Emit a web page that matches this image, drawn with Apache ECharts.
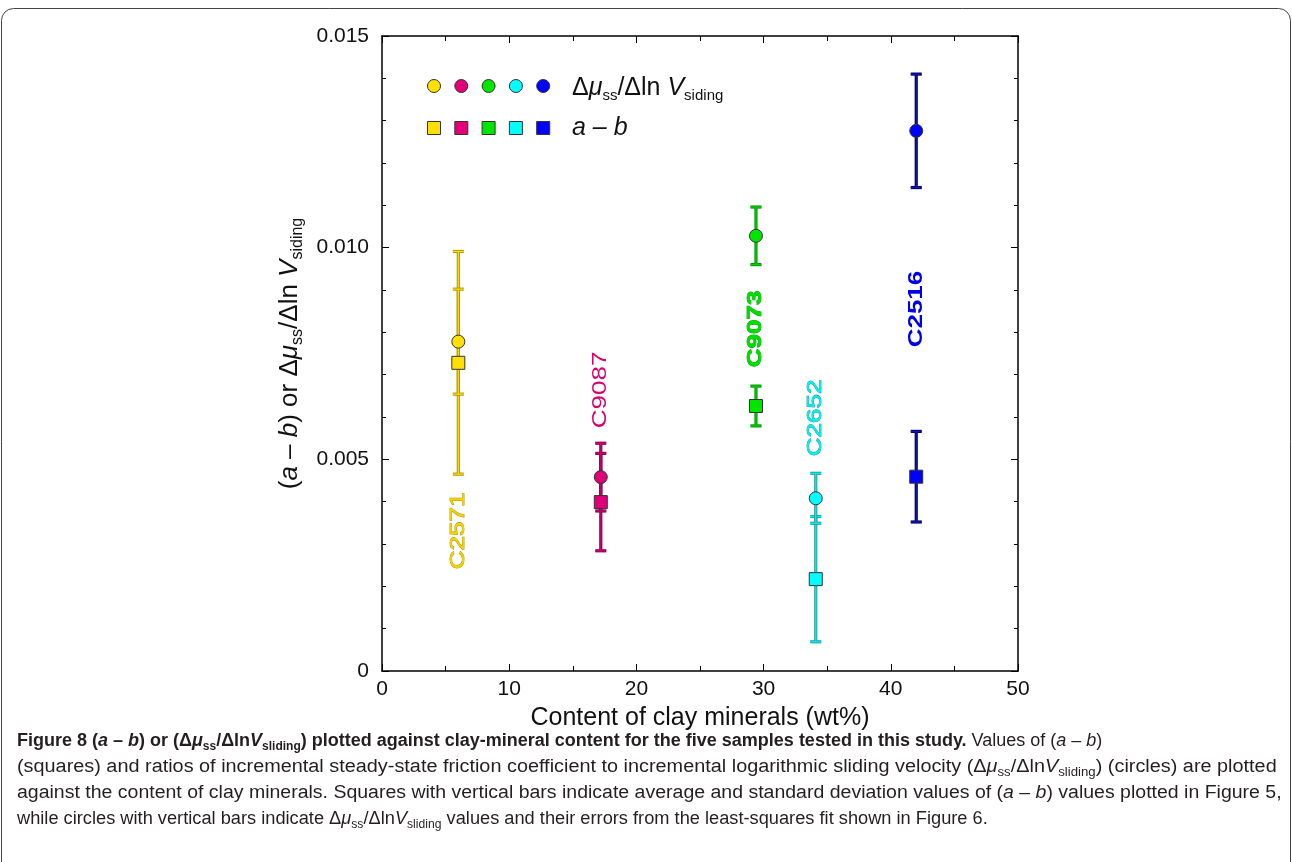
<!DOCTYPE html>
<html>
<head>
<meta charset="utf-8">
<script src="https://cdn.jsdelivr.net/npm/echarts@6/dist/echarts.min.js"></script>
<style>html,body{margin:0;padding:0;background:#fff;}#c{width:1292px;height:862px;}</style>
</head>
<body>
<div id="c"></div>
<script>
// ---- data ----
const samples = ['C2571', 'C9087', 'C9073', 'C2652', 'C2516'];
const clayContent = [6.0, 17.2, 29.4, 34.1, 42.0];
const muRatio = [0.00778, 0.00458, 0.01028, 0.00408, 0.01276];
const muRatioErr = [0.00124, 0.00080, 0.00068, 0.00059, 0.00134];
const aMinusB = [0.00728, 0.00399, 0.00626, 0.00217, 0.00459];
const aMinusBErr = [0.00263, 0.00115, 0.00047, 0.00148, 0.00107];
const labelAt = [0.00331, 0.00664, 0.00808, 0.00598, 0.00855];
const xTicks = [0, 10, 20, 30, 40, 50];
const yTicks = [0, 0.005, 0.010, 0.015];

// ---- styles ----
const fillColors = ['#FFE000', '#E0007A', '#00E600', '#00FFFF', '#0000FF'];
const barOuter = ['#B39600', '#8C004C', '#009A00', '#2A9E9E', '#00007A'];
const barInner = ['#FFE000', '#D0006E', '#00D000', '#00F4F4', '#1414A8'];
const labelFill = ['#F4D400', '#D8006F', '#00DC00', '#00F0F0', '#0000E6'];
const labelStroke = ['#A88C00', null, '#00A800', '#1E9C9C', null];
const labelBold = [false, false, true, false, true];

const chart = echarts.init(document.getElementById('c'));

function errBarItem(valArr, errArr) {
  return clayContent.map((x, i) => [x, valArr[i] - errArr[i], valArr[i] + errArr[i], i]);
}

function renderErr(params, api) {
  const x = api.value(0), lo = api.value(1), hi = api.value(2), i = api.value(3);
  const p1 = api.coord([x, hi]);
  const p2 = api.coord([x, lo]);
  const hw = 5.5;
  const children = [];
  const segs = [
    [p1[0], p1[1], p2[0], p2[1]],
    [p1[0] - hw, p1[1], p1[0] + hw, p1[1]],
    [p2[0] - hw, p2[1], p2[0] + hw, p2[1]]
  ];
  segs.forEach(s => children.push({type: 'line', shape: {x1: s[0], y1: s[1], x2: s[2], y2: s[3]},
    style: {stroke: barOuter[i], lineWidth: 3.2}}));
  segs.forEach(s => children.push({type: 'line', shape: {x1: s[0], y1: s[1], x2: s[2], y2: s[3]},
    style: {stroke: barInner[i], lineWidth: 1.2}}));
  return {type: 'group', children};
}

const axFont = 'Liberation Sans, Arial, sans-serif';
function frameAxis(extra) {
  return Object.assign({
    type: 'value',
    axisLine: {show: true, onZero: false, lineStyle: {color: '#000', width: 1.5}},
    axisTick: {show: true, inside: true, length: 7, lineStyle: {color: '#000', width: 1}},
    splitLine: {show: false}
  }, extra);
}

const option = {
  animation: false,
  backgroundColor: '#fff',
  grid: {left: 382, right: 274, top: 36, bottom: 191},
  xAxis: [frameAxis({
    min: 0, max: 50, interval: 10, position: 'bottom',
    minorTick: {show: true, splitNumber: 2, length: 5, lineStyle: {color: '#000', width: 1}},
    axisLabel: {color: '#111', fontSize: 21, fontFamily: axFont, margin: 8,
      formatter: v => xTicks.includes(v) ? String(v) : ''},
    name: 'Content of clay minerals (wt%)', nameLocation: 'middle', nameGap: 35,
    nameTextStyle: {color: '#111', fontSize: 25, fontFamily: axFont}
  }), frameAxis({
    min: 0, max: 50, interval: 10, position: 'top',
    minorTick: {show: true, splitNumber: 2, length: 5, lineStyle: {color: '#000', width: 1}},
    axisLabel: {show: false}
  })],
  yAxis: [frameAxis({
    min: 0, max: 0.015, interval: 0.005, position: 'left',
    minorTick: {show: true, splitNumber: 5, length: 4, lineStyle: {color: '#000', width: 1}},
    axisLabel: {color: '#111', fontSize: 21, fontFamily: axFont, margin: 13,
      formatter: v => {
        const t = yTicks.find(k => Math.abs(k - v) < 1e-9);
        if (t === undefined) return '';
        return t === 0 ? '0' : t.toFixed(3);
      }},
    name: '({i|a} – {i|b}) or Δ{i|μ}{s|ss}/Δln {i|V}{s|siding}',
    nameLocation: 'middle', nameGap: 76, nameRotate: 90,
    nameTextStyle: {color: '#111', fontSize: 26, fontFamily: axFont, lineHeight: 32,
      rich: {
        i: {fontStyle: 'italic', fontSize: 26, color: '#111', fontFamily: axFont, lineHeight: 32},
        s: {fontSize: 16, color: '#111', fontFamily: axFont, verticalAlign: 'bottom', lineHeight: 15}
      }}
  }), frameAxis({
    min: 0, max: 0.015, interval: 0.005, position: 'right',
    minorTick: {show: true, splitNumber: 5, length: 4, lineStyle: {color: '#000', width: 1}},
    axisLabel: {show: false}
  })],
  series: [
    {type: 'custom', name: 'errA', renderItem: renderErr, data: errBarItem(aMinusB, aMinusBErr), z: 2, clip: false,
      encode: {x: 0, y: [1, 2]}},
    {type: 'custom', name: 'errMu', renderItem: renderErr, data: errBarItem(muRatio, muRatioErr), z: 3, clip: false,
      encode: {x: 0, y: [1, 2]}},
    {type: 'scatter', name: 'a - b', symbol: 'rect', symbolSize: 13, z: 4,
      data: clayContent.map((x, i) => ({value: [x, aMinusB[i]],
        itemStyle: {color: fillColors[i], borderColor: '#333', borderWidth: 1, opacity: 1}}))},
    {type: 'scatter', name: 'mu', symbol: 'circle', symbolSize: 13, z: 5,
      data: clayContent.map((x, i) => ({value: [x, muRatio[i]],
        itemStyle: {color: fillColors[i], borderColor: '#333', borderWidth: 1, opacity: 1}}))},
    {type: 'custom', name: 'labels', z: 6, clip: false,
      data: clayContent.map((x, i) => [x, labelAt[i], i]),
      encode: {x: 0, y: 1},
      renderItem: (params, api) => {
        const i = api.value(2);
        const p = api.coord([api.value(0), api.value(1)]);
        const st = {text: samples[i], fill: labelFill[i], fontSize: 20,
          fontWeight: labelBold[i] ? 'bold' : 'normal',
          fontFamily: axFont, align: 'center', verticalAlign: 'middle'};
        if (labelStroke[i]) { st.stroke = labelStroke[i]; st.lineWidth = 0.8; }
        return {type: 'text', x: p[0], y: p[1], rotation: Math.PI / 2, scaleX: 1.3, style: st};
      }}
  ],
  graphic: [
    {type: 'rect', shape: {x: 1.5, y: 8.5, width: 1289, height: 870, r: 12},
      style: {fill: 'none', stroke: '#444', lineWidth: 1}, z: -1, silent: true},
    // legend markers
    ...fillColors.map((c, i) => ({type: 'circle', shape: {cx: 434 + i * 27.3, cy: 86, r: 6.5},
      style: {fill: c, stroke: '#333', lineWidth: 1}})),
    ...fillColors.map((c, i) => ({type: 'rect', shape: {x: 434 + i * 27.3 - 6.5, y: 121.5, width: 13, height: 13},
      style: {fill: c, stroke: '#333', lineWidth: 1}})),
    {type: 'text', x: 572, y: 88, style: {
      text: 'Δ{i|μ}{s|ss}/Δln {i|V}{s|siding}', fill: '#111', fontSize: 25, lineHeight: 30,
      fontFamily: axFont, verticalAlign: 'middle',
      rich: {
        i: {fontStyle: 'italic', fontSize: 25, fill: '#111', lineHeight: 30, fontFamily: axFont},
        s: {fontSize: 15, fill: '#111', verticalAlign: 'bottom', lineHeight: 14, fontFamily: axFont}
      }}},
    {type: 'text', x: 572, y: 128, style: {
      text: 'a – b', fill: '#111', fontSize: 25, fontStyle: 'italic',
      fontFamily: axFont, verticalAlign: 'middle'}},
    // caption
    ...[
      ['{b|Figure 8 (}{bi|a}{b| – }{bi|b}{b|) or (Δ}{bi|μ}{bs|ss}{b|/Δln}{bi|V}{bs|sliding}{b|) plotted against clay-mineral content for the five samples tested in this study.}{n| Values of (}{i|a}{n| – }{i|b}{n|)}', 1.0],
      ['{n|(squares) and ratios of incremental steady-state friction coefficient to incremental logarithmic sliding velocity (Δ}{i|μ}{s|ss}{n|/Δln}{i|V}{s|sliding}{n|) (circles) are plotted}', 1.103],
      ['{n|against the content of clay minerals. Squares with vertical bars indicate average and standard deviation values of (}{i|a}{n| – }{i|b}{n|) values plotted in Figure 5,}', 1.083],
      ['{n|while circles with vertical bars indicate Δ}{i|μ}{s|ss}{n|/Δln}{i|V}{s|sliding}{n| values and their errors from the least-squares fit shown in Figure 6.}', 1.013]
    ].map(([t, sx], k) => {
      const ff = axFont;
      const col = '#231f20';
      return {type: 'text', x: 17, y: 741 + k * 26, scaleX: sx, style: {
        text: t, verticalAlign: 'middle', fill: col,
        rich: {
          b: {fontSize: 18, fontWeight: 'bold', fill: col, fontFamily: ff, lineHeight: 24},
          bi: {fontSize: 18, fontWeight: 'bold', fontStyle: 'italic', fill: col, fontFamily: ff, lineHeight: 24},
          bs: {fontSize: 12, fontWeight: 'bold', fill: col, fontFamily: ff, verticalAlign: 'bottom', lineHeight: 12},
          n: {fontSize: 18, fill: col, fontFamily: ff, lineHeight: 24},
          i: {fontSize: 18, fontStyle: 'italic', fill: col, fontFamily: ff, lineHeight: 24},
          s: {fontSize: 12, fill: col, fontFamily: ff, verticalAlign: 'bottom', lineHeight: 12}
        }}};
    })
  ]
};
chart.setOption(option);
</script>
</body>
</html>
